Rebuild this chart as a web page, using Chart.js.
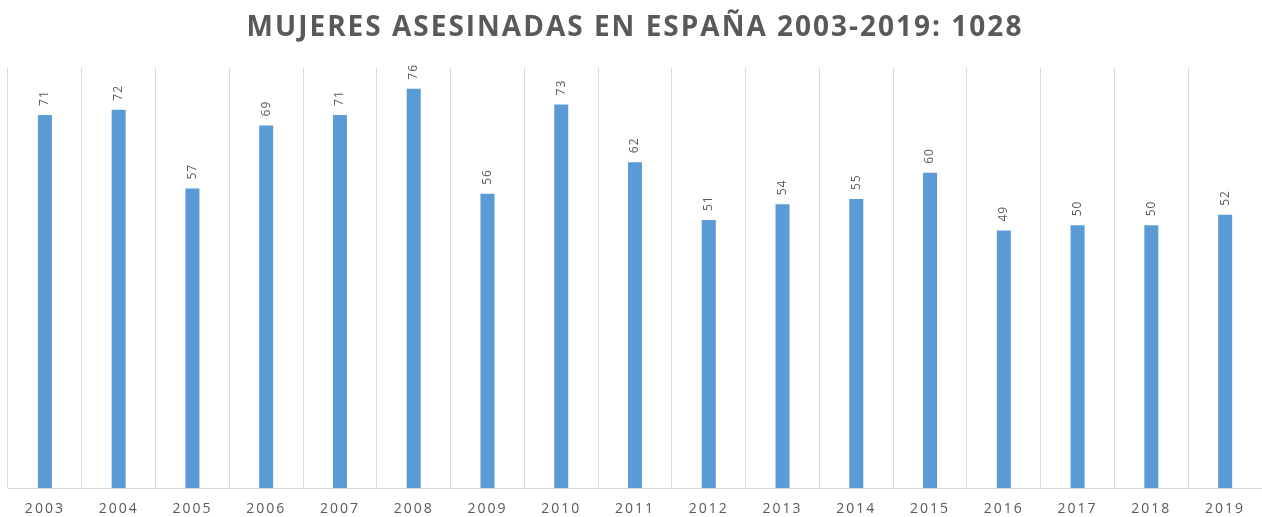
<!DOCTYPE html>
<html>
<head>
<meta charset="utf-8">
<script src="https://cdn.jsdelivr.net/npm/chart.js@4.4.0/dist/chart.umd.min.js"></script>
<style>
  html, body { margin: 0; padding: 0; background: #fff; }
  #wrap { width: 1262px; height: 517px; }
</style>
</head>
<body>
<div id="wrap"><canvas id="mujeresChart"></canvas></div>
<script>
const years = ["2003", "2004", "2005", "2006", "2007", "2008", "2009", "2010", "2011",
  "2012", "2013", "2014", "2015", "2016", "2017", "2018", "2019"];
const victims = [71, 72, 57, 69, 71, 76, 56, 73, 62, 51, 54, 55, 60, 49, 50, 50, 52];
const titleText = "MUJERES ASESINADAS EN ESPAÑA 2003-2019: 1028";

// letter spacing for all canvas text (Excel-like look)
const spacingPlugin = {
  id: "spacing",
  beforeDraw(chart) {
    chart.ctx.letterSpacing = "2px";
  }
};

// rotated value labels above each bar
const barLabels = {
  id: "barLabels",
  afterDatasetsDraw(chart) {
    const ctx = chart.ctx;
    const meta = chart.getDatasetMeta(0);
    ctx.save();
    ctx.letterSpacing = "1px";
    ctx.font = "12px 'Open Sans'";
    ctx.fillStyle = "#595959";
    ctx.textAlign = "left";
    ctx.textBaseline = "middle";
    meta.data.forEach((bar, i) => {
      ctx.save();
      ctx.translate(bar.x, bar.y - 9);
      ctx.rotate(-Math.PI / 2);
      ctx.fillText(String(victims[i]), 0, 0);
      ctx.restore();
    });
    ctx.restore();
  }
};

const ctx = document.getElementById("mujeresChart");
new Chart(ctx, {
  type: "bar",
  data: {
    labels: years,
    datasets: [{
      data: victims,
      backgroundColor: "#5b9bd5",
      barPercentage: 0.19,
      categoryPercentage: 1
    }]
  },
  plugins: [spacingPlugin, barLabels],
  options: {
    responsive: true,
    maintainAspectRatio: false,
    animation: false,
    layout: { padding: { left: 8, right: 0, top: 0, bottom: -12 } },
    plugins: {
      legend: { display: false },
      tooltip: { enabled: false },
      title: {
        display: true,
        text: titleText,
        color: "#595959",
        font: { size: 28, weight: "bold", family: "'Open Sans'" },
        padding: { top: 11, bottom: 23 }
      }
    },
    scales: {
      x: {
        offset: true,
        grid: {
          offset: true,
          color: "#d9d9d9",
          drawTicks: false
        },
        border: { color: "#d9d9d9" },
        ticks: {
          color: "#595959",
          padding: 12,
          font: { size: 14, family: "'Open Sans'" }
        }
      },
      y: {
        display: false,
        min: 0,
        max: 80
      }
    }
  }
});
</script>
</body>
</html>
